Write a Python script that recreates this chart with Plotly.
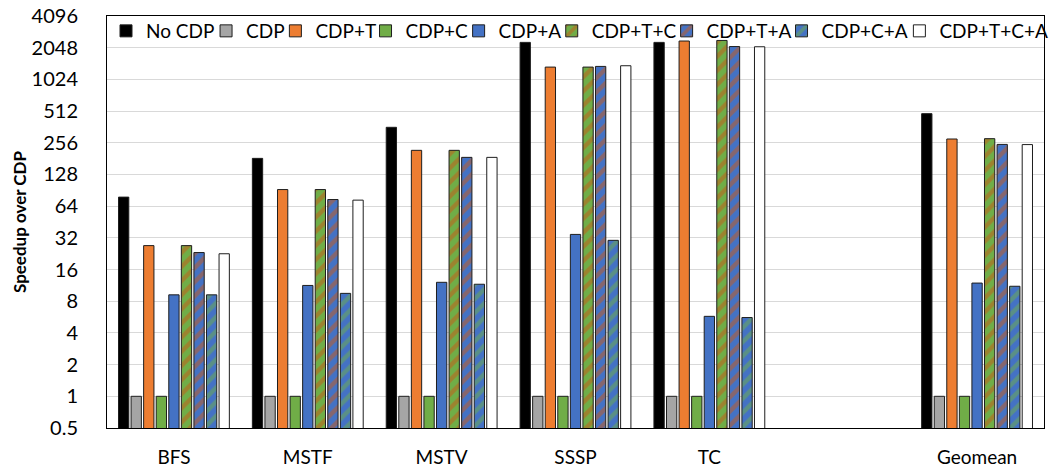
import plotly.graph_objects as go

categories = ["BFS", "MSTF", "MSTV", "SSSP", "TC", " ", "Geomean"]
series_names = ["No CDP", "CDP", "CDP+T", "CDP+C", "CDP+A",
                "CDP+T+C", "CDP+T+A", "CDP+C+A", "CDP+T+C+A"]

no_cdp    = [78, 182, 359, 2300, 2300, None, 484]
cdp       = [1, 1, 1, 1, 1, None, 1]
cdp_t     = [27, 92, 217, 1340, 2370, None, 278]
cdp_c     = [1, 1, 1, 1, 1, None, 1]
cdp_a     = [9.2, 11.3, 12.1, 34.5, 5.75, None, 11.9]
cdp_tc    = [27, 92, 217, 1340, 2400, None, 280]
cdp_ta    = [23.2, 74, 186, 1360, 2100, None, 247]
cdp_ca    = [9.2, 9.5, 11.6, 30.3, 5.6, None, 11.1]
cdp_tca   = [22.6, 73, 186, 1380, 2090, None, 246]

tick_vals = [0.5, 1, 2, 4, 8, 16, 32, 64, 128, 256, 512, 1024, 2048, 4096]
tick_text = ["0.5", "1", "2", "4", "8", "16", "32", "64", "128", "256", "512", "1024", "2048", "4096"]

BLACK = "#000000"
GRAY = "#A5A5A5"
ORANGE = "#ED7D31"
GREEN = "#70AD47"
BLUE = "#4472C4"
STRIPE_OR = "#C85A17"
WHITE = "#FFFFFF"

values = [no_cdp, cdp, cdp_t, cdp_c, cdp_a, cdp_tc, cdp_ta, cdp_ca, cdp_tca]
styles = [
    (BLACK, None),
    (GRAY, None),
    (ORANGE, None),
    (GREEN, None),
    (BLUE, None),
    (GREEN, STRIPE_OR),
    (BLUE, STRIPE_OR),
    (BLUE, GREEN),
    (WHITE, None),
]

# legend text start positions (px), laid out like the original
legend_text_px = [146, 247, 317, 408, 502, 596, 712, 828, 947]
L, R, T, B = 107, 2, 16, 42
W, H = 1055, 470
plot_w = W - L - R
plot_h = H - T - B

fig = go.Figure()
legend_layouts = {}
for i, (name, vals, (bg, fg)) in enumerate(zip(series_names, values, styles)):
    marker = dict(color=bg, line=dict(color="#1e1e1e", width=1))
    if fg is not None:
        marker["pattern"] = dict(shape="/", fgcolor=fg, bgcolor=bg, size=10, solidity=0.45)
    key = "legend" if i == 0 else f"legend{i+1}"
    fig.add_trace(go.Bar(name=name, x=categories, y=vals, marker=marker, legend=key))
    legend_layouts[key] = dict(
        x=(legend_text_px[i] - 40 - L) / plot_w, y=1 - (31 - T) / plot_h,
        xanchor="left", yanchor="middle", orientation="h",
        bgcolor="rgba(0,0,0,0)", font=dict(size=19, color="#000000"),
        itemwidth=30,
    )

fig.update_layout(
    width=W, height=H,
    margin=dict(l=L, r=R, t=T, b=B),
    barmode="group", bargap=0.155, bargroupgap=0.18,
    plot_bgcolor="white", paper_bgcolor="white",
    font=dict(family="Lato, sans-serif", size=19, color="#000000"),
    showlegend=True,
    **legend_layouts,
)
fig.update_xaxes(type="category", categoryorder="array", categoryarray=categories,
                 showline=True, linecolor="#000000", linewidth=1, mirror=True,
                 ticks="", tickfont=dict(size=19), ticklabelstandoff=12)
fig.update_yaxes(type="log", range=[-0.30103, 3.61236],
                 tickvals=tick_vals, ticktext=tick_text,
                 showgrid=True, gridcolor="#D9D9D9", gridwidth=1,
                 showline=True, linecolor="#000000", linewidth=1, mirror=True,
                 ticklabelstandoff=24, tickfont=dict(size=20),
                 title=dict(text="<b>Speedup over CDP</b>", font=dict(size=17), standoff=0),
                 zeroline=False)

fig.write_html("out.html")
